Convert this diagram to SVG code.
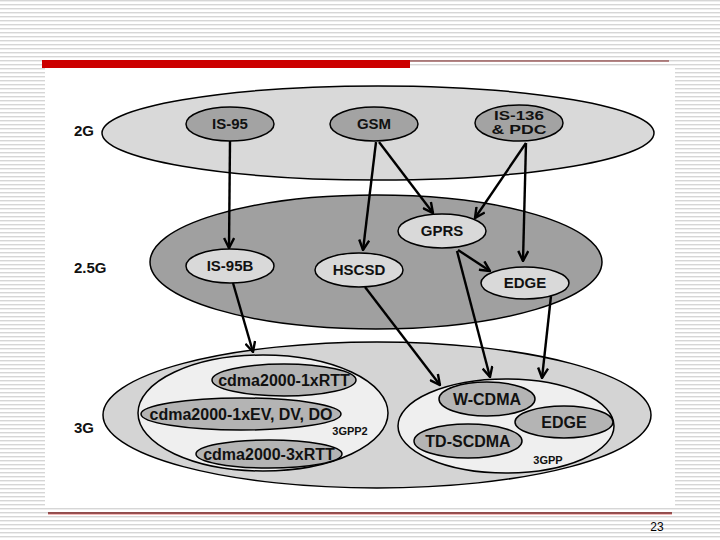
<svg xmlns="http://www.w3.org/2000/svg" width="720" height="540" viewBox="0 0 720 540">
<defs>
<pattern id="stripes" width="8" height="4" patternUnits="userSpaceOnUse">
<rect width="8" height="4" fill="#ffffff"/>
<rect y="0" width="8" height="1.4" fill="#d6d6d6"/>
</pattern>
<marker id="arr" viewBox="0 0 12 12" refX="11" refY="6" markerWidth="12" markerHeight="12" markerUnits="userSpaceOnUse" orient="auto">
<path d="M1,1 L11,6 L1,11" fill="none" stroke="#000" stroke-width="2.4"/>
</marker>
<style>
.big{stroke:#000;stroke-width:1.5}
.node{stroke:#000;stroke-width:1.5}
.t{font-family:"Liberation Sans",Arial,sans-serif;font-weight:bold;font-size:15px;fill:#111;text-anchor:middle}
.t2{font-family:"Liberation Sans",Arial,sans-serif;font-weight:bold;font-size:13px;fill:#111;text-anchor:middle}
.t3{font-family:"Liberation Sans",Arial,sans-serif;font-weight:bold;font-size:16px;fill:#111;text-anchor:middle}
.lbl{font-family:"Liberation Sans",Arial,sans-serif;font-weight:bold;font-size:15px;fill:#111}
.sm{font-family:"Liberation Sans",Arial,sans-serif;font-weight:bold;font-size:11px;fill:#111;text-anchor:middle}
.c{fill:none;stroke:#000;stroke-width:2.4;marker-end:url(#arr)}
</style>
</defs>
<rect width="720" height="540" fill="url(#stripes)"/>
<rect x="45" y="68" width="630" height="440" fill="#ffffff"/>
<rect x="42" y="60" width="368" height="8" fill="#cc0000"/>
<line x1="410" y1="61" x2="669" y2="61" stroke="#7a1c1c" stroke-width="1"/>
<line x1="48" y1="513" x2="672" y2="513" stroke="#7a1c1c" stroke-width="1.3"/>
<line x1="48" y1="514.5" x2="672" y2="514.5" stroke="#f2b8b8" stroke-width="1"/>
<text x="657" y="531" font-family="Liberation Sans,Arial,sans-serif" font-size="12" fill="#000" text-anchor="middle">23</text>

<g id="tier-2G">
<ellipse cx="378" cy="133" rx="276" ry="47" fill="#d9d9d9" class="big"/>
<text x="74" y="136" class="lbl">2G</text>
</g>
<g id="tier-2.5G">
<ellipse cx="376" cy="262" rx="226" ry="67" fill="#a0a0a0" class="big"/>
<text x="74" y="273" class="lbl">2.5G</text>
</g>
<g id="tier-3G">
<ellipse cx="377" cy="415" rx="274" ry="73" fill="#d4d4d4" class="big"/>
<text x="74" y="433" class="lbl">3G</text>
</g>
<g id="group-3GPP2">
<ellipse cx="263" cy="413" rx="125" ry="58" fill="#efefef" class="big"/>
<text x="350" y="435" class="sm">3GPP2</text>
</g>
<g id="group-3GPP">
<ellipse cx="506" cy="426" rx="108" ry="47" fill="#efefef" class="big"/>
<text x="548" y="464" class="sm">3GPP</text>
</g>

<g id="IS-95"><ellipse cx="230" cy="124" rx="44" ry="17" fill="#a3a3a3" class="node"/><text x="230" y="129" class="t">IS-95</text></g>
<g id="GSM"><ellipse cx="374" cy="124" rx="44" ry="17" fill="#a3a3a3" class="node"/><text x="374" y="129" class="t">GSM</text></g>
<g id="IS-136"><ellipse cx="519" cy="123" rx="44" ry="18" fill="#a3a3a3" class="node"/><text x="519" y="119.5" class="t2" textLength="50" lengthAdjust="spacingAndGlyphs">IS-136</text><text x="519" y="134" class="t2" textLength="55" lengthAdjust="spacingAndGlyphs">&amp; PDC</text></g>

<g id="GPRS"><ellipse cx="442" cy="231" rx="44" ry="17" fill="#d9d9d9" class="node"/><text x="442" y="236" class="t">GPRS</text></g>
<g id="IS-95B"><ellipse cx="230" cy="266" rx="44" ry="17" fill="#d9d9d9" class="node"/><text x="230" y="271" class="t">IS-95B</text></g>
<g id="HSCSD"><ellipse cx="359" cy="270" rx="44" ry="17" fill="#d9d9d9" class="node"/><text x="359" y="275" class="t">HSCSD</text></g>
<g id="EDGE-25"><ellipse cx="525" cy="283" rx="44" ry="16" fill="#d9d9d9" class="node"/><text x="525" y="288" class="t">EDGE</text></g>

<g id="cdma2000-1xRTT"><ellipse cx="284" cy="380" rx="72" ry="16" fill="#b4b4b4" class="node"/><text x="284" y="386" class="t3">cdma2000-1xRTT</text></g>
<g id="cdma2000-1xEV"><ellipse cx="241" cy="414" rx="100" ry="16" fill="#b4b4b4" class="node"/><text x="241" y="420" class="t3">cdma2000-1xEV, DV, DO</text></g>
<g id="cdma2000-3xRTT"><ellipse cx="269" cy="454" rx="73" ry="14" fill="#b4b4b4" class="node"/><text x="269" y="460" class="t3">cdma2000-3xRTT</text></g>

<g id="W-CDMA"><ellipse cx="487" cy="399" rx="48" ry="17" fill="#b4b4b4" class="node"/><text x="487" y="405" class="t3">W-CDMA</text></g>
<g id="EDGE-3G"><ellipse cx="564" cy="422" rx="49" ry="16" fill="#b4b4b4" class="node"/><text x="564" y="428" class="t3">EDGE</text></g>
<g id="TD-SCDMA"><ellipse cx="468" cy="441" rx="54" ry="17" fill="#b4b4b4" class="node"/><text x="468" y="447" class="t3">TD-SCDMA</text></g>

<g id="connectors">
<path class="c" d="M230,141 L229,248"/>
<path class="c" d="M376,142 L363,250"/>
<path class="c" d="M379,142 L433,213"/>
<path class="c" d="M526,143 L475,218"/>
<path class="c" d="M526,143 L523,261"/>
<path class="c" d="M458,250 L490,271"/>
<path class="c" d="M457,251 L490,377"/>
<path class="c" d="M551,296 L542,378"/>
<path class="c" d="M233,283 L253,352"/>
<path class="c" d="M365,287 L440,385"/>
</g>
</svg>
